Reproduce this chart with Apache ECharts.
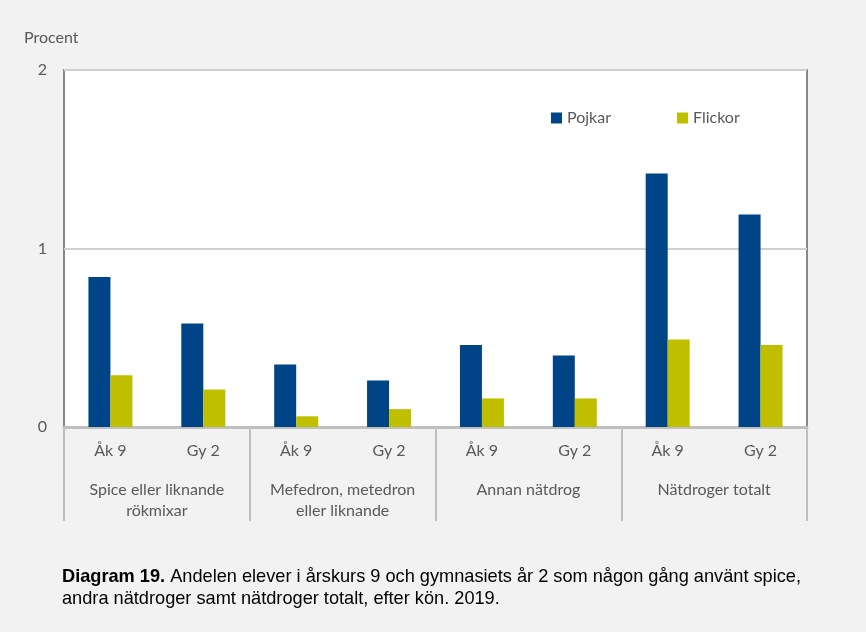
<!DOCTYPE html>
<html>
<head>
<meta charset="utf-8">
<script src="https://cdn.jsdelivr.net/npm/echarts@6/dist/echarts.min.js"></script>
<style>
html,body{margin:0;padding:0;background:#f2f2f2;}
#c{width:866px;height:632px;}
</style>
</head>
<body>
<div id="c"></div>
<script>
const subCategories = ['Åk 9','Gy 2','Åk 9','Gy 2','Åk 9','Gy 2','Åk 9','Gy 2'];
const groupCategories = ['Spice eller liknande\nrökmixar','Mefedron, metedron\neller liknande','Annan nätdrog','Nätdroger totalt'];
const pojkar = [0.84, 0.58, 0.35, 0.26, 0.46, 0.40, 1.42, 1.19];
const flickor = [0.29, 0.21, 0.06, 0.10, 0.16, 0.16, 0.49, 0.46];
const yTicks = [0, 1, 2];
const seriesNames = ['Pojkar','Flickor'];

const chart = echarts.init(document.getElementById('c'));
const font = 'Lato, "Noto Sans", sans-serif';
const fs = 16;
chart.setOption({
  backgroundColor: '#f2f2f2',
  animation: false,
  textStyle: {fontFamily: font},
  grid: {left: 64, right: 59, top: 70, bottom: 205, show: true, backgroundColor: '#ffffff', borderColor: '#878787', borderWidth: 2},
  legend: {
    top: 105, left: 546, itemWidth: 11, itemHeight: 11, itemGap: 66,
    icon: 'rect',
    textStyle: {fontSize: fs, color: '#595959', fontFamily: font},
    data: seriesNames
  },
  xAxis: [
    {
      type: 'category', data: subCategories, position: 'bottom',
      axisLine: {show: true, lineStyle: {color: '#bfbfbf', width: 3}},
      axisTick: {show: false},
      axisLabel: {fontSize: fs, color: '#595959', margin: 16, fontFamily: font}
    },
    {
      type: 'category', data: groupCategories, position: 'bottom',
      axisLine: {show: false},
      axisTick: {show: true, length: 94, interval: 0, lineStyle: {color: '#bfbfbf', width: 2}},
      axisLabel: {fontSize: fs, color: '#595959', margin: 52, lineHeight: 21, fontFamily: font, interval: 0}
    }
  ],
  yAxis: {
    type: 'value', min: 0, max: 2, interval: 1,
    axisLine: {show: false}, axisTick: {show: false},
    axisLabel: {fontSize: fs, color: '#595959', margin: 17, fontFamily: font, formatter: v => yTicks.includes(v) ? String(v) : ''},
    splitLine: {show: true, lineStyle: {color: '#d0d0d0', width: 2}}
  },
  series: [
    {name: seriesNames[0], type: 'bar', data: pojkar, xAxisIndex: 0, barWidth: 22, barGap: '0%', itemStyle: {color: '#004488'}},
    {name: seriesNames[1], type: 'bar', data: flickor, xAxisIndex: 0, barWidth: 22, barGap: '0%', itemStyle: {color: '#bfbf00'}}
  ],
  graphic: [
    {type: 'text', left: 24, top: 30, style: {text: 'Procent', fontSize: fs, fill: '#595959', fontFamily: font}},
    {type: 'text', left: 62, top: 566, style: {
      text: '{b|Diagram 19.} Andelen elever i årskurs 9 och gymnasiets år 2 som någon gång använt spice,\nandra nätdroger samt nätdroger totalt, efter kön. 2019.',
      rich: {b: {fontWeight: 'bold', fontSize: 18.2, lineHeight: 22, fontFamily: '"Liberation Sans", Arial, sans-serif', fill: '#000'}},
      fontSize: 18.2, lineHeight: 22, fill: '#000', fontFamily: '"Liberation Sans", Arial, sans-serif'
    }}
  ]
});
</script>
</body>
</html>
